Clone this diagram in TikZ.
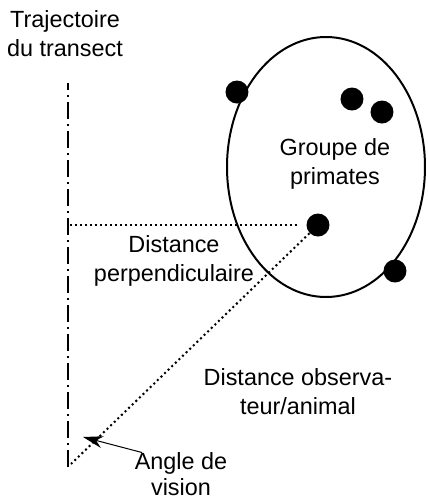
\documentclass[tikz,border=0pt]{standalone}
\usepackage{fontspec}
\setmainfont{Liberation Sans}
\usetikzlibrary{arrows.meta,shapes.geometric}

\begin{document}
\begin{tikzpicture}[x=0.5pt, y=-0.5pt, every node/.style={font=\fontsize{11.7}{14.5}\selectfont, align=center, inner sep=0pt},
  primate/.style={circle, fill=black, minimum size=11.5pt},
  sight/.style={line width=1pt, dash pattern=on 1pt off 1.5pt},
  transect/.style={line width=1.25pt, dash pattern=on 8.5pt off 2.5pt on 1pt off 2.5pt, dash phase=5pt}]
\useasboundingbox (0,0) rectangle (428,500);
\node (traj) at (65,34) {Trajectoire\\du transect};
\node[draw, ellipse, line width=1pt, minimum width=99pt, minimum height=130pt] (group) at (326,167) {};
\node (grouplbl) at (335,164) {Groupe de\\primates};
\node[primate] (p1) at (237,92) {};
\node[primate] (p2) at (352,99) {};
\node[primate] (p3) at (382,112) {};
\node[primate] (p4) at (318,225) {};
\node[primate] (p5) at (395,271) {};
\node (perp) at (174,260.5) {Distance\\perpendiculaire};
\node (dist) at (298,391.5) {Distance observa-\\teur/animal};
\node[font=\fontsize{11.7}{13}\selectfont] (angle) at (181,474.5) {Angle de\\vision};
\coordinate (tTop) at (68,83);
\coordinate (tBot) at (68,467);
\coordinate (foot) at (70,225);
\coordinate (obs) at (71,464);
\coordinate (angTip) at (83,437);
\draw[transect] (tTop) -- (tBot);
\draw[sight, shorten >=4pt] (foot) -- (p4);
\draw[sight] (p4) -- (obs);
\draw[-{Stealth[length=10pt, width=6pt]}, line width=0.5pt] ([xshift=-19.5pt]angle.north) -- (angTip);
\end{tikzpicture}
\end{document}
